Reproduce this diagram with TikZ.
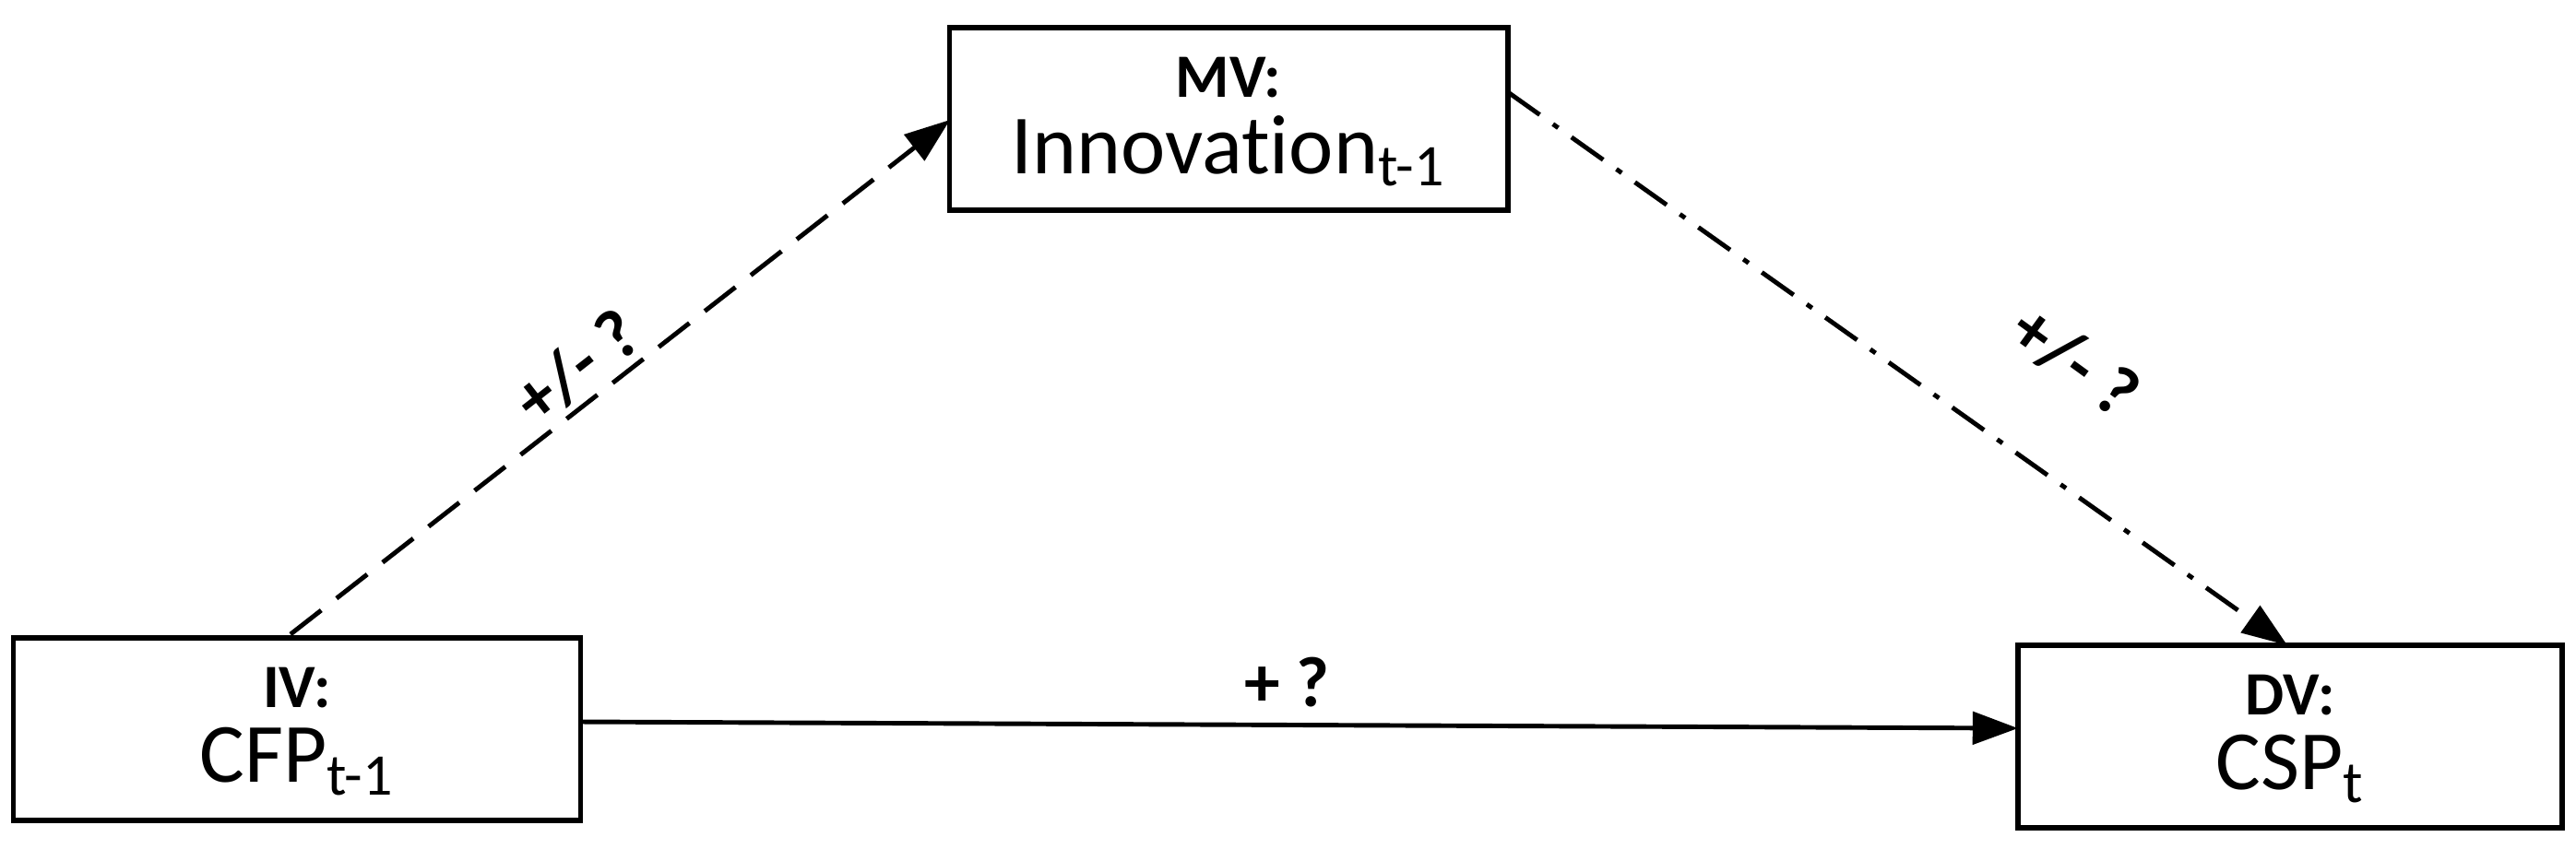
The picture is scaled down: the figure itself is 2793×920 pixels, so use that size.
\documentclass[tikz,border=0pt]{standalone}
\usepackage{fontspec}
\setmainfont{Carlito}
\usetikzlibrary{arrows.meta}
\begin{document}
\begin{tikzpicture}[x=0.01cm,y=-0.01cm,
  box/.style={draw,line width=1.6pt,inner sep=0pt,minimum height=1.98cm},
  arr/.style={line width=1.4pt,-{Triangle[length=14pt,width=10pt]}},
  lab/.style={font=\fontsize{22}{26}\selectfont\bfseries},
  t1/.style={font=\fontsize{19}{22}\selectfont\bfseries},
  t2/.style={font=\fontsize{26}{30}\selectfont}]
\useasboundingbox (0,0) rectangle (2793,920);
\node[box,minimum width=6.05cm] (mv) at (1332,129) {};
\node[box,minimum width=6.15cm] (iv) at (322,791) {};
\node[box,minimum width=5.9cm] (dv) at (2483,799) {};
\coordinate (mvl) at (1030,130); \coordinate (mvr) at (1635,100);
\coordinate (ivr) at (630,783); \coordinate (ivt) at (315,688);
\coordinate (dvl) at (2188,790); \coordinate (dvt) at (2480,700);
\node[t1] (mvh) at (1332,84) {MV:};
\node[t2] (mvt) at (1332,164) {Innovat\kern0ption\textsubscript{t-1}};
\node[t1] (ivh) at (322,746) {IV:};
\node[t2] (ivt2) at (322,826) {CFP\textsubscript{t-1}};
\node[t1] (dvh) at (2483,754) {DV:};
\node[t2] (dvt2) at (2483,834) {CSP\textsubscript{t}};
\draw[arr,dash pattern=on 12pt off 6pt] (ivt) -- (mvl);
\draw[arr,dash pattern=on 12pt off 5pt on 2pt off 5pt] (mvr) -- (dvt);
\draw[arr] (ivr) -- (dvl);
\node[lab,rotate=38] (l1) at (625,398) {+/- ?};
\node[lab,rotate=-36] (l2) at (2250,392) {+/- ?};
\node[lab] (l3) at (1395,740) {+ ?};
\end{tikzpicture}
\end{document}
